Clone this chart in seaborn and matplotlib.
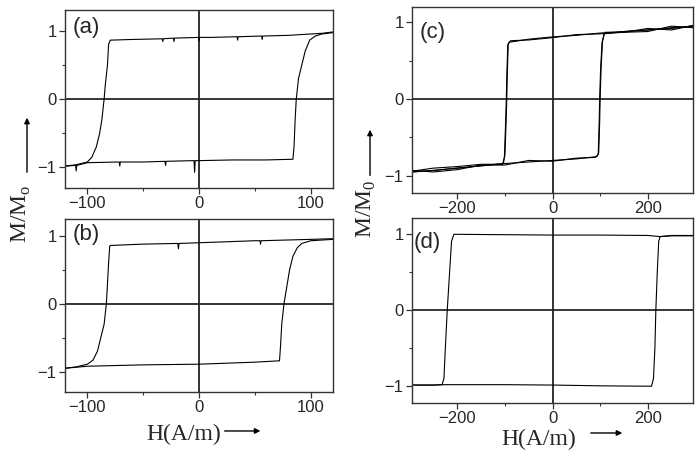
import pandas as pd
import matplotlib
matplotlib.use('Agg')
import matplotlib.pyplot as plt
from matplotlib.ticker import MultipleLocator
import seaborn as sns

# DATA: hysteresis branches (H in A/m, M/M0)
# panel (a)
a_down_H = [120, 110, 100, 80, 57, 56.5, 56, 35, 34.5, 34, 10, 0.5, 0, -0.5, -22, -22.5, -23,
            -32, -32.5, -33, -60, -79.5, -81, -82, -84, -85, -87, -89, -92, -96, -100, -110, -120]
a_down_M = [0.98, 0.96, 0.95, 0.93, 0.92, 0.87, 0.92, 0.91, 0.86, 0.91, 0.9, 0.9, 0.85, 0.9, 0.89,
            0.84, 0.89, 0.88, 0.84, 0.88, 0.87, 0.86, 0.8, 0.5, 0.2, 0.0, -0.3, -0.5, -0.7, -0.85,
            -0.92, -0.96, -0.98]
a_up_H = [-120, -110.5, -110, -109.5, -100, -71.5, -71, -70.5, -50, -30.5, -30, -29.5, -4.5, -4,
          -3.5, 0, 30, 60, 84, 85, 86, 87, 89, 92, 95, 99, 104, 110, 120]
a_up_M = [-0.98, -0.97, -1.05, -0.97, -0.93, -0.92, -0.98, -0.92, -0.92, -0.91, -0.97, -0.91,
          -0.9, -1.07, -0.9, -0.9, -0.89, -0.89, -0.88, -0.7, -0.3, 0.0, 0.3, 0.5, 0.7, 0.86,
          0.92, 0.95, 0.97]

# panel (b)
b_down_H = [120, 100, 55.5, 55, 54.5, 50, 0, -18, -18.5, -19, -50, -79.5, -80, -81, -82, -83,
            -85, -88, -91, -95, -100, -110, -120]
b_down_M = [0.96, 0.95, 0.93, 0.88, 0.93, 0.93, 0.9, 0.89, 0.81, 0.89, 0.88, 0.86, 0.85, 0.6,
            0.3, 0.0, -0.3, -0.5, -0.7, -0.83, -0.89, -0.93, -0.95]
b_up_H = [-120, -100, -50, 0, 50, 72, 73, 74, 76, 79, 81, 84, 88, 92, 100, 120]
b_up_M = [-0.95, -0.92, -0.9, -0.89, -0.86, -0.84, -0.6, -0.3, 0.0, 0.3, 0.5, 0.7, 0.83, 0.89,
          0.93, 0.95]

# panel (c): two overlapping cycles
c1_down_H = [295, 250, 200, 150, 100, 50, 0, -50, -91, -94, -96, -97, -99, -101, -103, -150,
             -200, -250, -295]
c1_down_M = [0.95, 0.92, 0.9, 0.88, 0.86, 0.83, 0.81, 0.78, 0.74, 0.7, 0.3, 0.0, -0.4, -0.75,
             -0.84, -0.87, -0.9, -0.93, -0.95]
c1_up_H = [-295, -250, -200, -150, -100, -50, 0, 50, 93, 97, 99, 100, 102, 105, 108, 150, 200,
           250, 295]
c1_up_M = [-0.95, -0.93, -0.9, -0.87, -0.84, -0.82, -0.8, -0.78, -0.75, -0.7, -0.3, 0.0, 0.4,
           0.75, 0.85, 0.88, 0.9, 0.93, 0.95]
c2_down_H = [295, 250, 200, 150, 100, 50, 0, -50, -88, -93, -95, -96, -98, -100, -105, -150,
             -200, -250, -295]
c2_down_M = [0.93, 0.95, 0.88, 0.87, 0.85, 0.84, 0.8, 0.77, 0.76, 0.72, 0.3, 0.0, -0.4, -0.74,
             -0.85, -0.85, -0.88, -0.9, -0.94]
c2_up_H = [-295, -250, -200, -150, -100, -50, 0, 50, 90, 96, 98, 99, 101, 104, 110, 150, 200,
           250, 295]
c2_up_M = [-0.93, -0.95, -0.92, -0.86, -0.86, -0.8, -0.81, -0.77, -0.76, -0.72, -0.3, 0.0, 0.4,
           0.74, 0.87, 0.87, 0.92, 0.9, 0.96]

# panel (d)
d_down_H = [295, 250, 226, 200, 100, 0, -100, -200, -207, -212, -216, -221, -225, -228, -232,
            -250, -295]
d_down_M = [0.975, 0.975, 0.96, 0.975, 0.98, 0.98, 0.985, 0.99, 0.99, 0.9, 0.5, 0.0, -0.5,
            -0.9, -0.98, -0.985, -0.985]
d_up_H = [-295, -250, -229, -200, -100, 0, 100, 200, 208, 212, 215, 217, 220, 223, 226, 250, 295]
d_up_M = [-0.985, -0.985, -0.98, -0.98, -0.98, -0.985, -0.995, -1.0, -1.0, -0.9, -0.5, 0.0,
          0.5, 0.9, 0.96, 0.97, 0.97]


def loop_df(*branches):
    rows = []
    for k, (hs, ms) in enumerate(branches):
        for i, (h, m) in enumerate(zip(hs, ms)):
            rows.append({'H': h, 'M': m, 'branch': k, 'order': i})
    return pd.DataFrame(rows)


df_a = loop_df((a_down_H, a_down_M), (a_up_H, a_up_M))
df_b = loop_df((b_down_H, b_down_M), (b_up_H, b_up_M))
df_c = loop_df((c1_down_H, c1_down_M), (c1_up_H, c1_up_M),
               (c2_down_H, c2_down_M), (c2_up_H, c2_up_M))
df_d = loop_df((d_down_H, d_down_M), (d_up_H, d_up_M))

sns.set_style('ticks')
plt.rcParams['font.family'] = ['Liberation Sans', 'DejaVu Sans']
plt.rcParams['mathtext.fontset'] = 'custom'
plt.rcParams['mathtext.rm'] = 'Liberation Serif'

fig = plt.figure(figsize=(7, 4.58), dpi=100)
ax_a = fig.add_axes([0.0929, 0.5895, 0.383, 0.3886])
ax_b = fig.add_axes([0.0929, 0.1441, 0.383, 0.3777])
ax_c = fig.add_axes([0.5886, 0.5793, 0.4014, 0.4055])
ax_d = fig.add_axes([0.5886, 0.1201, 0.4014, 0.4033])

panels = [
    (ax_a, df_a, '(a)', (-120, 120), (-1.3, 1.3), 100, 50, (0.027, 0.96)),
    (ax_b, df_b, '(b)', (-120, 120), (-1.3, 1.25), 100, 50, (0.027, 0.97)),
    (ax_c, df_c, '(c)', (-295, 295), (-1.22, 1.2), 200, 100, (0.028, 0.92)),
    (ax_d, df_d, '(d)', (-295, 295), (-1.22, 1.2), 200, 100, (0.006, 0.925)),
]

for ax, df, lab, xl, yl, maj, mnr, pos in panels:
    ax.axhline(0, color='black', lw=1.1, zorder=1)
    ax.axvline(0, color='#222222', lw=1.3, zorder=1)
    sns.lineplot(data=df, x='H', y='M', units='branch', estimator=None, sort=False,
                 color='black', lw=0.8, ax=ax, zorder=2)
    ax.set_xlim(xl)
    ax.set_ylim(yl)
    ax.xaxis.set_major_locator(MultipleLocator(maj))
    ax.xaxis.set_minor_locator(MultipleLocator(mnr))
    ax.yaxis.set_major_locator(MultipleLocator(1))
    ax.yaxis.set_minor_locator(MultipleLocator(0.5))
    ax.tick_params(which='major', direction='out', length=4, width=0.9, labelsize=12,
                   pad=2, color='#333333')
    ax.tick_params(which='minor', direction='out', length=2.5, width=0.8, color='#333333')
    for s in ax.spines.values():
        s.set_visible(True)
        s.set_color('#333333')
        s.set_linewidth(1.0)
    ax.set_xlabel('')
    ax.set_ylabel('')
    ax.text(pos[0], pos[1], lab, transform=ax.transAxes, ha='left', va='top', fontsize=16)

# axis labels with arrows
lab_font = dict(family='Liberation Serif', fontsize=17)
fig.text(0.03, 0.533, 'M/M$_\\mathregular{o}$', rotation=90, ha='center', va='center', **lab_font)
fig.text(0.523, 0.545, 'M/M$_\\mathregular{0}$', rotation=90, ha='center', va='center', **lab_font)
fig.text(0.263, 0.052, 'H(A/m)', ha='center', va='center', **lab_font)
fig.text(0.770, 0.040, 'H(A/m)', ha='center', va='center', **lab_font)

arrow = dict(arrowstyle='-|>', color='black', lw=1.0, mutation_scale=8)
fig.add_artist(matplotlib.patches.FancyArrowPatch((0.0386, 0.618), (0.0386, 0.749),
                                                  transform=fig.transFigure, **arrow))
fig.add_artist(matplotlib.patches.FancyArrowPatch((0.5286, 0.611), (0.5286, 0.723),
                                                  transform=fig.transFigure, **arrow))
fig.add_artist(matplotlib.patches.FancyArrowPatch((0.317, 0.059), (0.376, 0.059),
                                                  transform=fig.transFigure, **arrow))
fig.add_artist(matplotlib.patches.FancyArrowPatch((0.84, 0.0546), (0.893, 0.0546),
                                                  transform=fig.transFigure, **arrow))

plt.savefig('out.png', dpi=100)
